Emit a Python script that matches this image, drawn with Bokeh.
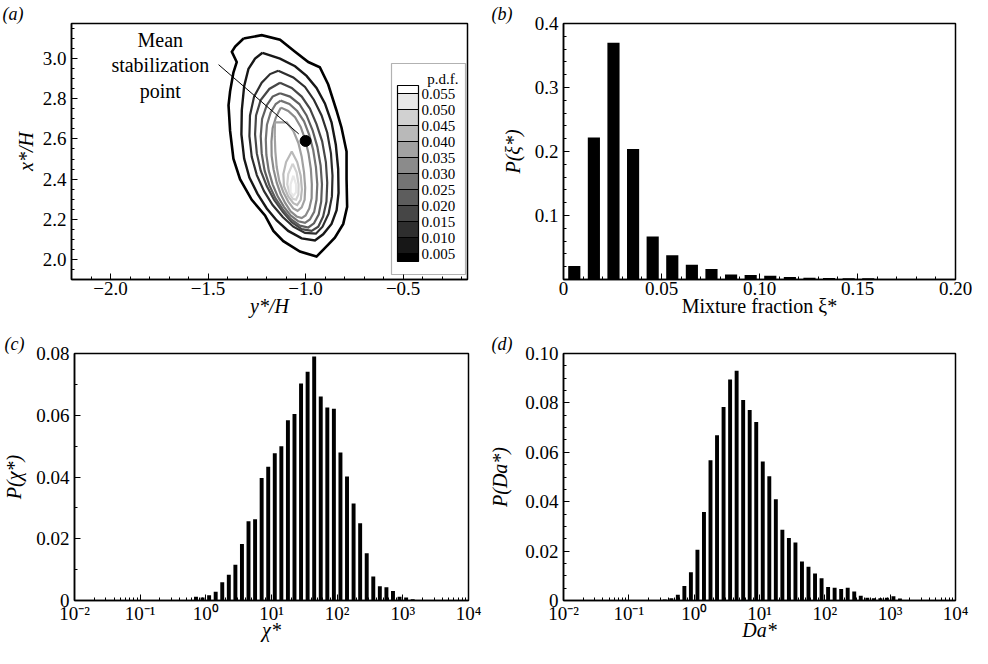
from bokeh.plotting import figure
from bokeh.layouts import row, column
from bokeh.models import (Range1d, FixedTicker, NumeralTickFormatter, ColorBar, LinearColorMapper,
                          BoxAnnotation, Label)
from bokeh.embed import file_html
from bokeh.resources import INLINE
from bokeh.core.properties import value

SERIF = "Liberation Serif"

# ---------------- panel (a): joint p.d.f. of stabilization point ----------------
pdf_levels = [0.005, 0.010, 0.015, 0.020, 0.025, 0.030, 0.035, 0.040, 0.045, 0.050, 0.055]
# contour vertices: horizontal = y*/H, vertical = x*/H
c005_h = [-1.318, -1.225, -1.131, -1.054, -0.986, -0.927, -0.884, -0.842, -0.816, -0.790, -0.790, -0.787, -0.807,
          -0.850, -0.884, -0.944, -1.029, -1.114, -1.165, -1.208, -1.276, -1.336, -1.370, -1.387, -1.395, -1.387,
          -1.370, -1.353, -1.378, -1.361]
c005_v = [3.100, 3.117, 3.094, 3.034, 2.983, 2.957, 2.871, 2.743, 2.657, 2.537, 2.400, 2.262, 2.177, 2.108, 2.074,
          2.014, 2.039, 2.091, 2.142, 2.219, 2.297, 2.400, 2.502, 2.640, 2.768, 2.837, 2.931, 2.983, 3.034, 3.060]
c010_h = [-1.221, -1.131, -1.054, -0.995, -0.944, -0.901, -0.867, -0.845, -0.833, -0.831, -0.841, -0.867, -0.910,
          -0.952, -1.020, -1.089, -1.148, -1.199, -1.247, -1.288, -1.315, -1.329, -1.327, -1.315, -1.293, -1.259]
c010_v = [3.029, 3.000, 2.962, 2.914, 2.854, 2.777, 2.683, 2.571, 2.451, 2.331, 2.245, 2.177, 2.125, 2.094, 2.105,
          2.142, 2.194, 2.254, 2.328, 2.408, 2.502, 2.623, 2.743, 2.863, 2.949, 3.000]
c015_h = [-1.140, -1.063, -1.003, -0.957, -0.918, -0.889, -0.870, -0.862, -0.865, -0.882, -0.913, -0.947, -1.003,
          -1.063, -1.117, -1.169, -1.213, -1.250, -1.276, -1.288, -1.285, -1.264, -1.225, -1.182]
c015_v = [2.940, 2.906, 2.859, 2.794, 2.717, 2.631, 2.528, 2.417, 2.314, 2.228, 2.163, 2.128, 2.132, 2.163, 2.211,
          2.271, 2.340, 2.420, 2.511, 2.614, 2.717, 2.811, 2.880, 2.923]
c020_h = [-1.131, -1.071, -1.020, -0.978, -0.944, -0.915, -0.896, -0.889, -0.893, -0.910, -0.935, -0.969, -1.020,
          -1.071, -1.117, -1.162, -1.199, -1.230, -1.250, -1.259, -1.254, -1.230, -1.186]
c020_v = [2.880, 2.854, 2.811, 2.751, 2.674, 2.588, 2.485, 2.382, 2.288, 2.214, 2.163, 2.142, 2.151, 2.185, 2.237,
          2.297, 2.365, 2.442, 2.528, 2.623, 2.717, 2.794, 2.849]
c025_h = [-1.131, -1.080, -1.032, -0.995, -0.964, -0.940, -0.923, -0.916, -0.920, -0.933, -0.957, -0.986, -1.029,
          -1.077, -1.117, -1.155, -1.186, -1.210, -1.225, -1.230, -1.223, -1.199, -1.169]
c025_v = [2.828, 2.811, 2.774, 2.717, 2.643, 2.562, 2.468, 2.374, 2.288, 2.223, 2.180, 2.159, 2.168, 2.202, 2.249,
          2.305, 2.370, 2.442, 2.528, 2.614, 2.700, 2.768, 2.811]
c030_h = [-1.128, -1.083, -1.043, -1.008, -0.981, -0.961, -0.947, -0.940, -0.944, -0.956, -0.978, -1.003, -1.037,
          -1.077, -1.111, -1.143, -1.169, -1.189, -1.201, -1.204, -1.198, -1.179, -1.153]
c030_v = [2.791, 2.774, 2.739, 2.688, 2.619, 2.545, 2.460, 2.374, 2.297, 2.237, 2.199, 2.182, 2.190, 2.219, 2.262,
          2.314, 2.374, 2.442, 2.520, 2.597, 2.671, 2.732, 2.774]
c035_h = [-1.126, -1.089, -1.054, -1.025, -1.002, -0.985, -0.973, -0.968, -0.969, -0.981, -1.000, -1.020, -1.046,
          -1.077, -1.104, -1.128, -1.148, -1.164, -1.174, -1.175, -1.169, -1.153, -1.136]
c035_v = [2.756, 2.739, 2.708, 2.660, 2.597, 2.528, 2.451, 2.374, 2.305, 2.254, 2.219, 2.206, 2.214, 2.240, 2.280,
          2.326, 2.382, 2.448, 2.516, 2.588, 2.653, 2.705, 2.739]
c040_h = [-1.157, -1.097, -1.063, -1.037, -1.020, -1.008, -1.002, -1.005, -1.020, -1.041, -1.063, -1.089, -1.114,
          -1.135, -1.148, -1.155, -1.158]
c040_v = [2.683, 2.683, 2.640, 2.580, 2.511, 2.434, 2.357, 2.297, 2.259, 2.242, 2.254, 2.288, 2.334, 2.391, 2.460,
          2.537, 2.614]
c045_h = [-1.071, -1.043, -1.025, -1.019, -1.025, -1.043, -1.063, -1.089, -1.111, -1.114, -1.100]
c045_v = [2.537, 2.485, 2.417, 2.348, 2.297, 2.271, 2.280, 2.314, 2.365, 2.425, 2.485]
c050_h = [-1.066, -1.046, -1.036, -1.037, -1.049, -1.066, -1.083, -1.094, -1.089]
c050_v = [2.477, 2.434, 2.374, 2.322, 2.297, 2.302, 2.331, 2.374, 2.425]
c055_h = [-1.063, -1.049, -1.049, -1.063, -1.077, -1.077]
c055_v = [2.417, 2.374, 2.334, 2.317, 2.334, 2.374]

mean_stab_h = [-1.0]
mean_stab_v = [2.59]

# ---------------- panel (b): mixture fraction p.d.f. ----------------
xi_centers = [0.0055, 0.0155, 0.0255, 0.0355, 0.0455, 0.0555, 0.0655, 0.0755, 0.0855, 0.0955,
              0.1055, 0.1155, 0.1255, 0.1355, 0.1455, 0.1555, 0.1655]
xi_pdf = [0.021, 0.222, 0.370, 0.204, 0.067, 0.038, 0.023, 0.0165, 0.008, 0.007,
          0.0057, 0.0038, 0.0026, 0.0025, 0.0020, 0.0019, 0.0009]

# ---------------- panel (c): scalar dissipation p.d.f. (log10 bin centres) ----------------
chi_log_centers = [-0.15, -0.05, 0.05, 0.15, 0.25, 0.35, 0.45, 0.55, 0.65, 0.75, 0.85, 0.95, 1.05, 1.15,
                   1.25, 1.35, 1.45, 1.55, 1.65, 1.75, 1.85, 1.95, 2.05, 2.15, 2.25, 2.35, 2.45, 2.55,
                   2.65, 2.75, 2.85, 2.95, 3.05, 3.15]
chi_pdf = [0.0012, 0.0010, 0.0017, 0.0028, 0.0059, 0.0083, 0.0116, 0.0183, 0.0257, 0.0263, 0.0397, 0.0433,
           0.0477, 0.0500, 0.0584, 0.0604, 0.0703, 0.0741, 0.0790, 0.0661, 0.0625, 0.0621, 0.0479, 0.0402,
           0.0314, 0.0250, 0.0153, 0.0078, 0.0046, 0.0043, 0.0031, 0.0012, 0.0010, 0.0004]

# ---------------- panel (d): Damkohler number p.d.f. (log10 bin centres) ----------------
da_log_centers = [-0.55, -0.45, -0.35, -0.25, -0.15, -0.05, 0.05, 0.15, 0.25, 0.35, 0.45, 0.55, 0.65, 0.75,
                  0.85, 0.95, 1.05, 1.15, 1.25, 1.35, 1.45, 1.55, 1.65, 1.75, 1.85, 1.95, 2.05, 2.15, 2.25,
                  2.35, 2.45, 2.55, 2.65, 2.75, 2.85, 2.95, 3.05, 3.15]
da_pdf = [0.0002, 0.0004, 0.0009, 0.0023, 0.0059, 0.0114, 0.0205, 0.0358, 0.0568, 0.0669, 0.0783, 0.0895,
          0.0930, 0.0812, 0.0771, 0.0723, 0.0563, 0.0503, 0.0410, 0.0286, 0.0253, 0.0235, 0.0158, 0.0137,
          0.0109, 0.0090, 0.0055, 0.0052, 0.0047, 0.0052, 0.0036, 0.0019, 0.0011, 0.0009, 0.0009, 0.0011,
          0.0017, 0.0008]

log_tick_labels = ["10\u207b\u00b2", "10\u207b\u00b9", "10\u2070", "10\u00b9", "10\u00b2", "10\u00b3", "10\u2074"]

TICK_FS = "19px"
LABEL_FS = "20px"


def gray(k, n=11):
    g = int(round(255 * k / n))
    return "#%02x%02x%02x" % (g, g, g)


def frange(a, b, s):
    out, v = [], a
    while v <= b + 1e-9:
        out.append(round(v, 6))
        v += s
    return out


def make_fig(w, h, bl, br, bt, bb, letter, letter_offset, xlab_standoff, **kw):
    p = figure(width=w, height=h, toolbar_location=None, output_backend="svg",
               min_border_left=bl, min_border_right=br, min_border_top=bt, min_border_bottom=bb, **kw)
    p.grid.visible = False
    p.outline_line_color = "black"
    p.outline_line_width = 1.5
    p.background_fill_color = "white"
    p.border_fill_color = "white"
    for ax in (p.xaxis[0], p.yaxis[0]):
        ax.axis_line_color = "black"
        ax.axis_line_width = 1.5
        ax.major_tick_in = 6
        ax.major_tick_out = 0
        ax.minor_tick_in = 3
        ax.minor_tick_out = 0
        ax.major_tick_line_color = "black"
        ax.minor_tick_line_color = "black"
        ax.major_label_text_font = SERIF
        ax.major_label_text_font_size = TICK_FS
        ax.major_label_text_color = "black"
        ax.axis_label_text_font = SERIF
        ax.axis_label_text_font_size = LABEL_FS
        ax.axis_label_text_color = "black"
        ax.axis_label_text_font_style = "italic"
    p.xaxis[0].major_label_standoff = 2
    p.yaxis[0].major_label_standoff = 5
    p.xaxis[0].axis_label_standoff = xlab_standoff
    # panel letter
    p.title.text = "(%s)" % letter
    p.title.text_font = SERIF
    p.title.text_font_size = "18px"
    p.title.text_font_style = "italic"
    p.title.text_color = "black"
    p.title.align = "left"
    p.title.offset = letter_offset
    p.title.standoff = 0
    return p


ROW1_H, ROW2_H = 331, 315

# ================= (a) =================
pa = make_fig(486, ROW1_H, 71, 19, 23, 52, "a", -69, -3,
              x_range=Range1d(-2.2, -0.17), y_range=Range1d(1.9, 3.175))
pa.xaxis.ticker = FixedTicker(ticks=[-2.0, -1.5, -1.0, -0.5], minor_ticks=frange(-2.2, -0.2, 0.1))
pa.xaxis.major_label_overrides = {-2.0: "\u22122.0", -1.5: "\u22121.5", -1.0: "\u22121.0", -0.5: "\u22120.5"}
pa.yaxis.ticker = FixedTicker(ticks=[2.0, 2.2, 2.4, 2.6, 2.8, 3.0], minor_ticks=frange(1.9, 3.15, 0.05))
pa.yaxis.formatter = NumeralTickFormatter(format="0.0")
pa.xaxis.axis_label = "y*/H"
pa.yaxis.axis_label = "x*/H"
pa.yaxis.axis_label_standoff = 3

contours_h = [c005_h, c010_h, c015_h, c020_h, c025_h, c030_h, c035_h, c040_h, c045_h, c050_h, c055_h]
contours_v = [c005_v, c010_v, c015_v, c020_v, c025_v, c030_v, c035_v, c040_v, c045_v, c050_v, c055_v]
xs = [h + [h[0]] for h in contours_h]
ys = [v + [v[0]] for v in contours_v]
colors = [gray(k) for k in range(len(pdf_levels))]
widths = [2.6, 2.4] + [2.2] * (len(pdf_levels) - 2)
pa.multi_line(xs=xs, ys=ys, line_color=colors, line_width=widths, line_join="miter")

# annotation
pa.line(x=[-1.446, -1.035], y=[2.97, 2.625], line_color="black", line_width=1)
pa.scatter(x=mean_stab_h, y=mean_stab_v, size=11, marker="circle", fill_color="black", line_color="black")
pa.text(x=[-1.745, -1.745, -1.745], y=[3.094, 2.966, 2.837], text=["Mean", "stabilization", "point"],
        text_align="center", text_baseline="middle", text_font=value(SERIF), text_font_size="20px",
        text_color="black")

# legend box (frame-relative pixels)
DX = 1
pa.add_layout(BoxAnnotation(left=319 + DX, right=393 + DX, bottom=5, top=216,
                            left_units="screen", right_units="screen",
                            bottom_units="screen", top_units="screen",
                            fill_color="white", fill_alpha=1.0, line_color="black", line_width=1.2))
band_palette = ["#000000"] + [gray(k) for k in range(1, 11) for _ in (0, 1)] + ["#ffffff"]
mapper = LinearColorMapper(palette=band_palette, low=0.0025, high=0.0575)
cb = ColorBar(color_mapper=mapper, ticker=FixedTicker(ticks=pdf_levels),
              formatter=NumeralTickFormatter(format="0.000"),
              location=(325 + DX, 18), margin=0, padding=0, width=21, height=176,
              major_label_text_font=SERIF, major_label_text_font_size="15px",
              major_label_text_color="black", label_standoff=3,
              major_tick_in=21, major_tick_out=0, major_tick_line_color="black", major_tick_line_width=1,
              minor_tick_line_color=None, bar_line_color="black", bar_line_width=1.2,
              border_line_color=None, background_fill_color=None)
pa.add_layout(cb, "center")
pa.add_layout(Label(x=386 + DX, y=201, x_units="screen", y_units="screen", text="p.d.f.",
                    text_font=SERIF, text_font_size="15px", text_align="right",
                    text_baseline="middle", text_color="black"))

# ================= (b) =================
pb = make_fig(486, ROW1_H, 77, 17, 23, 52, "b", -72, -3, x_range=Range1d(0, 0.2), y_range=Range1d(0, 0.4))
pb.xaxis.ticker = FixedTicker(ticks=[0.0, 0.05, 0.1, 0.15, 0.2], minor_ticks=frange(0.01, 0.19, 0.01))
pb.xaxis.major_label_overrides = {0.0: "0", 0.05: "0.05", 0.1: "0.10", 0.15: "0.15", 0.2: "0.20"}
pb.yaxis.ticker = FixedTicker(ticks=[0.1, 0.2, 0.3, 0.4], minor_ticks=frange(0.02, 0.38, 0.02))
pb.yaxis.formatter = NumeralTickFormatter(format="0.0")
pb.xaxis.axis_label = "Mixture fraction \u03be*"
pb.xaxis.axis_label_text_font_style = "normal"
pb.yaxis.axis_label = "P(\u03be*)"
pb.yaxis.axis_label_standoff = 8
pb.vbar(x=xi_centers, top=xi_pdf, bottom=0, width=0.0062, fill_color="black", line_color=None)

# ================= (c) & (d) =================
log_major = [1e-2, 1e-1, 1e0, 1e1, 1e2, 1e3, 1e4]
log_minor = [m * 10.0 ** e for e in range(-2, 4) for m in range(2, 10)]


def log_panel(w, bl, br, ymax, ymajor, yminor, ylabel, xlabel, ystand, centers, vals, letter, loff):
    p = make_fig(w, ROW2_H, bl, br, 22, 46, letter, loff, -8, x_axis_type="log",
                 x_range=Range1d(1e-2, 1e4), y_range=Range1d(0, ymax))
    p.xaxis.ticker = FixedTicker(ticks=log_major, minor_ticks=log_minor)
    p.xaxis.major_label_overrides = {t: s for t, s in zip(log_major, log_tick_labels)}
    p.yaxis.ticker = FixedTicker(ticks=ymajor, minor_ticks=yminor)
    p.yaxis.major_label_overrides = {t: ("0" if t == 0 else "%.2f" % t) for t in ymajor}
    p.xaxis.axis_label = xlabel
    p.yaxis.axis_label = ylabel
    p.yaxis.axis_label_standoff = ystand
    left = [10 ** (c - 0.03) for c in centers]
    right = [10 ** (c + 0.03) for c in centers]
    p.quad(left=left, right=right, bottom=0, top=vals, fill_color="black", line_color=None)
    return p


pc = log_panel(486, 70, 18, 0.08, [0.0, 0.02, 0.04, 0.06, 0.08], frange(0.01, 0.07, 0.02),
               "P(\u03c7*)", "\u03c7*", 8, chi_log_centers, chi_pdf, "c", -70)

pd_ = log_panel(486, 77, 17, 0.10, [0.0, 0.02, 0.04, 0.06, 0.08, 0.1], frange(0.005, 0.095, 0.005),
                "P(Da*)", "Da*", 11, da_log_centers, da_pdf, "d", -72)

layout = column(row(pa, pb), row(pc, pd_))
open("out.html", "w").write(file_html(layout, INLINE))
